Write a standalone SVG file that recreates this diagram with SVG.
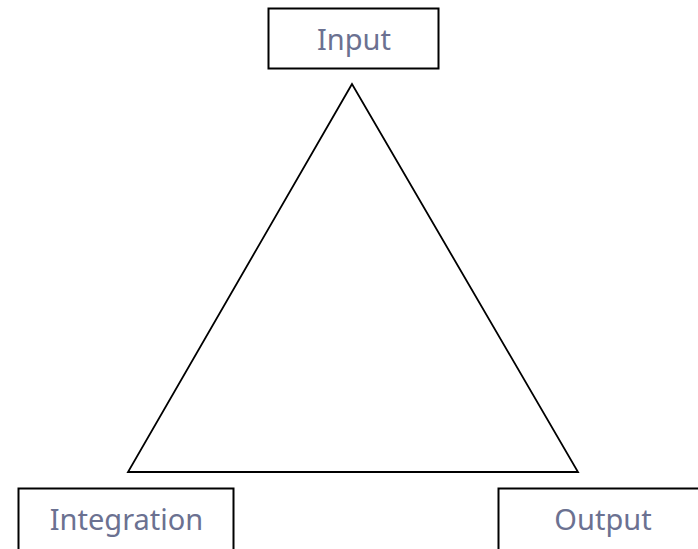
<svg xmlns="http://www.w3.org/2000/svg" width="698" height="549" viewBox="0 0 698 549">
<style>
.box{fill:#fff;stroke:#000;stroke-width:2}
.lbl{font-family:"Noto Sans","DejaVu Sans",sans-serif;font-size:29px;fill:#6b7191;text-anchor:middle}
.tri{fill:none;stroke:#000;stroke-width:1.8;stroke-linejoin:miter}
</style>
<rect width="698" height="549" fill="#fff"/>
<g id="connectors">
<polygon class="tri" points="352,84 128,472 578,472"/>
</g>
<g id="input">
<rect class="box" x="268.5" y="8.5" width="170" height="60"/>
<text class="lbl" x="354" y="50">Input</text>
</g>
<g id="integration">
<rect class="box" x="18.5" y="488.5" width="215" height="70"/>
<text class="lbl" x="126.5" y="530">Integration</text>
</g>
<g id="output">
<rect class="box" x="498.5" y="488.5" width="215" height="70"/>
<text class="lbl" x="603" y="530">Output</text>
</g>
</svg>
